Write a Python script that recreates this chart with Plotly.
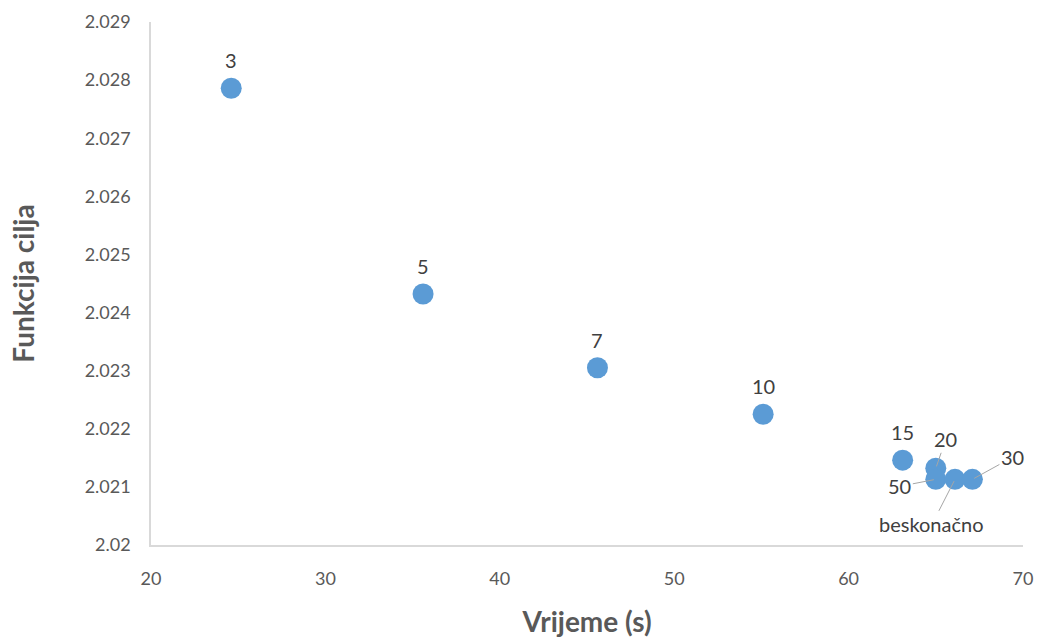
import plotly.graph_objects as go

# Vrijeme (s) vs. Funkcija cilja, labelled points
labels = ["3", "5", "7", "10", "15", "20", "50", "beskonačno", "30"]
vrijeme = [24.6, 35.6, 45.6, 55.1, 63.1, 65.0, 65.0, 66.1, 67.1]
funkcija = [2.02786, 2.02432, 2.02305, 2.02225, 2.02146, 2.02132, 2.02113, 2.02113, 2.02113]

# label offsets in pixels (dx, dy); leader line when the label sits away from the point
offsets = {
    "3": (0, -28, False),
    "5": (0, -28, False),
    "7": (0, -28, False),
    "10": (0, -28, False),
    "15": (0, -28, False),
    "20": (10, -29, True),
    "50": (-36, 7, True),
    "beskonačno": (-23, 45, True),
    "30": (40, -22, True),
}

FONT = "Lato, 'Open Sans', sans-serif"

fig = go.Figure()
fig.add_trace(go.Scatter(
    x=vrijeme, y=funkcija, mode="markers",
    marker=dict(size=21, color="#5B9BD5"),
    hoverinfo="x+y", showlegend=False,
))

for lab, xv, yv in zip(labels, vrijeme, funkcija):
    dx, dy, leader = offsets[lab]
    if leader:
        fig.add_annotation(
            x=xv, y=yv, text=lab, showarrow=True, arrowhead=0, arrowwidth=1,
            arrowcolor="#A6A6A6", ax=dx, ay=dy, standoff=2,
            font=dict(family=FONT, size=20, color="#404040"),
        )
    else:
        fig.add_annotation(
            x=xv, y=yv, text=lab, showarrow=False, yshift=-dy,
            font=dict(family=FONT, size=20, color="#404040"),
        )

fig.update_layout(
    width=1038, height=639,
    margin=dict(l=151, r=15, t=22, b=94),
    paper_bgcolor="white", plot_bgcolor="white",
    font=dict(family=FONT, color="#595959"),
    xaxis=dict(
        range=[20, 70], dtick=10, showgrid=False, zeroline=False,
        showline=True, linecolor="#D9D9D9", linewidth=1.5,
        ticks="", tickfont=dict(size=18, color="#595959"),
        ticklabelstandoff=17, automargin=False,
        title=dict(text="<b>Vrijeme (s)</b>", font=dict(size=28, color="#595959"), standoff=24),
    ),
    yaxis=dict(
        range=[2.02, 2.029], dtick=0.001, showgrid=False, zeroline=False,
        showline=True, linecolor="#D9D9D9", linewidth=1.5,
        ticks="", tickfont=dict(size=18, color="#595959"),
        ticklabelstandoff=15, automargin=False,
        title=dict(text="<b>Funkcija cilja</b>", font=dict(size=28, color="#595959"), standoff=42),
    ),
)

# drop the default page margin so the figure sits at the window's top-left corner
fig.write_html("out.html", config={"displayModeBar": False},
               post_script="document.body.style.margin='0';")
